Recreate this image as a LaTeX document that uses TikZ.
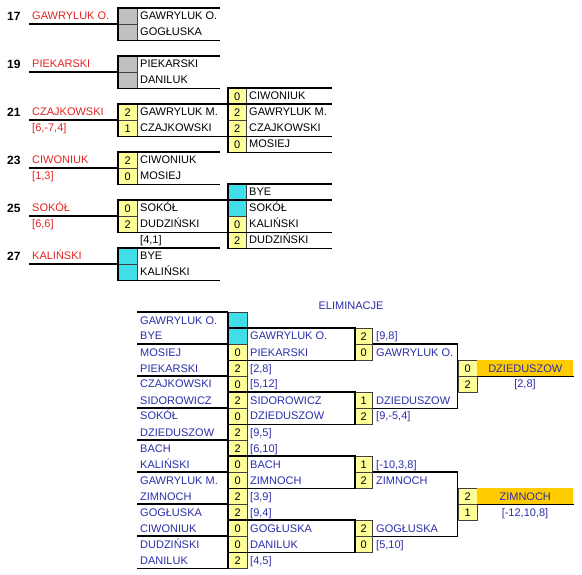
\documentclass[tikz,border=0pt]{standalone}
\usepackage{fontspec}
\setmainfont{Liberation Sans}
\usetikzlibrary{positioning}
\definecolor{labred}{RGB}{225,35,35}
\definecolor{elimblue}{RGB}{45,45,170}
\definecolor{scoreyel}{RGB}{255,255,153}
\definecolor{byecyan}{RGB}{64,222,230}
\definecolor{emptygray}{RGB}{192,192,192}
\definecolor{wingold}{RGB}{255,204,0}
\def\myrow{16}
\def\topy{8}
\def\boty{312}
\tikzset{
x=1pt,y=-1pt, % pixel grid, y downwards
>=stealth,
frame/.style={line width=1.9pt},
my text/.style={inner sep=0pt,font=\fontsize{11}{13}\selectfont},
pl name/.style={my text,anchor=base west},
red label/.style={pl name,text=labred},
blue name/.style={pl name,text=elimblue},
match no/.style={inner sep=0pt,anchor=base west,font=\fontsize{12}{13}\selectfont\bfseries},
cell/.style={my text,draw=black!75,line width=.5pt,minimum width=19pt,minimum height=16pt,anchor=north west},
yel/.style={cell,fill=scoreyel},
byecell/.style={cell,fill=byecyan},
gry/.style={cell,fill=emptygray},
winner/.style={cell,draw=none,fill=wingold,minimum width=96pt,text=elimblue},
}
\begin{document}
\begin{tikzpicture}
\useasboundingbox (0,0) rectangle (582,575);
% upper part, first round
\foreach \n/\r/\lab/\res/\sa/\pa/\sb/\pb/\st in {
  17/0/GAWRYLUK O./{}/{}/GAWRYLUK O./{}/GOGŁUSKA/gry,
  19/3/PIEKARSKI/{}/{}/PIEKARSKI/{}/DANILUK/gry,
  21/6/CZAJKOWSKI/{[6,-7,4]}/2/GAWRYLUK M./1/CZAJKOWSKI/yel,
  23/9/CIWONIUK/{[1,3]}/2/CIWONIUK/0/MOSIEJ/yel,
  25/12/SOKÓŁ/{[6,6]}/0/SOKÓŁ/2/DUDZIŃSKI/yel,
  27/15/KALIŃSKI/{}/{}/BYE/{}/KALIŃSKI/byecell}{
  \pgfmathsetmacro\yt{\topy+\r*\myrow}
  \node[match no] (no\n) at (7,\yt+12.5) {\n};
  \node[red label] (lab\n) at (32,\yt+12) {\lab};
  \node[red label] (res\n) at (32,\yt+28) {\res};
  \node[\st] (sa\n) at (118,\yt) {\sa};
  \node[\st] (sb\n) at (118,\yt+16) {\sb};
  \node[pl name] (pa\n) at (140,\yt+12) {\pa};
  \node[pl name] (pb\n) at (140,\yt+28) {\pb};
  \draw[frame] (sb\n.north west) -- ++(-89,0);
  \draw[frame] (sa\n.north west) ++(102,0) -- (sa\n.north west) -- (sb\n.south west) -- ++(102,0);
}
\node[pl name] (res25b) at (140,244) {[4,1]};
% upper part, second round
\foreach \r/\s/\st/\p in {5/0/yel/CIWONIUK, 6/2/yel/GAWRYLUK M., 7/2/yel/CZAJKOWSKI, 8/0/yel/MOSIEJ,
  11/{}/byecell/BYE, 12/{}/byecell/SOKÓŁ, 13/0/yel/KALIŃSKI, 14/2/yel/DUDZIŃSKI}{
  \node[\st,minimum width=18pt] (c\r) at (228,{\topy+\r*\myrow}) {\s};
  \node[pl name] (d\r) at (249,{\topy+\r*\myrow+12}) {\p};
}
\foreach \a/\b in {5/8,11/14}
  \draw[frame] (c\a.north west) ++(104,0) -- (c\a.north west) -- (c\b.south west) -- ++(104,0);
\foreach \m in {21,25}
  \draw[frame] (sa\m.north west) -- ++(214,0) (sb\m.south west) -- ++(214,0);
% lower part
\node[blue name,anchor=base] (elim) at (351,309) {ELIMINACJE};
\foreach \p/\s/\st [count=\r from 0] in {GAWRYLUK O./{}/byecell, BYE/{}/byecell, MOSIEJ/0/yel,
  PIEKARSKI/2/yel, CZAJKOWSKI/0/yel, SIDOROWICZ/2/yel, SOKÓŁ/0/yel, DZIEDUSZOW/2/yel,
  BACH/2/yel, KALIŃSKI/0/yel, GAWRYLUK M./0/yel, ZIMNOCH/2/yel, GOGŁUSKA/2/yel,
  CIWONIUK/0/yel, DUDZIŃSKI/0/yel, DANILUK/2/yel}{
  \node[\st] (e\r) at (228,{\boty+\r*\myrow}) {\s};
  \node[blue name] (f\r) at (140,{\boty+\r*\myrow+12}) {\p};
}
\foreach \p [count=\r from 0] in {{},GAWRYLUK O.,PIEKARSKI,{[2,8]},{[5,12]},SIDOROWICZ,DZIEDUSZOW,{[9,5]},
  {[6,10]},BACH,ZIMNOCH,{[3,9]},{[9,4]},GOGŁUSKA,DANILUK,{[4,5]}}
  \node[blue name] (g\r) at (250,{\boty+\r*\myrow+12}) {\p};
\foreach \r/\s/\p in {1/2/{[9,8]},2/0/GAWRYLUK O.,5/1/DZIEDUSZOW,6/2/{[9,-5,4]},
  9/1/{[-10,3,8]},10/2/ZIMNOCH,13/2/GOGŁUSKA,14/0/{[5,10]}}{
  \node[yel,minimum width=17pt] (h\r) at (355,{\boty+\r*\myrow}) {\s};
  \node[blue name] (k\r) at (376,{\boty+\r*\myrow+12}) {\p};
}
% finals
\node[yel] (m3) at (458,360) {0};
\node[yel] (m4) at (458,376) {2};
\node[winner] (win1) at (477,360) {DZIEDUSZOW};
\node[blue name,anchor=base] (sc1) at (525,388) {[2,8]};
\node[yel] (m11) at (458,488) {2};
\node[yel] (m12) at (458,504) {1};
\node[winner] (win2) at (477,488) {ZIMNOCH};
\node[blue name,anchor=base] (sc2) at (525,516) {[-12,10,8]};
% bracket lines
\foreach \r in {0,2,...,14}
  \draw[frame] (e\r.north west) -- ++(-91,0);
\draw[frame] (e15.south west) -- ++(-91,0);
\draw[frame] (e0.north west) -- (e15.south west);
\foreach \a/\b in {1/2,5/6,9/10,13/14}
  \draw[frame] (e\a.north west) -- (h\a.north west) -- (h\b.south west) -- (e\b.south west);
\foreach \a/\b in {2/5,10/13}
  \draw[frame] (h\a.north east) -- ++(85,0) |- (h\b.south east);
\draw[frame] (win1.south west) -- (win1.south east);
\draw[frame] (win2.south west) -- (win2.south east);
\end{tikzpicture}
\end{document}
